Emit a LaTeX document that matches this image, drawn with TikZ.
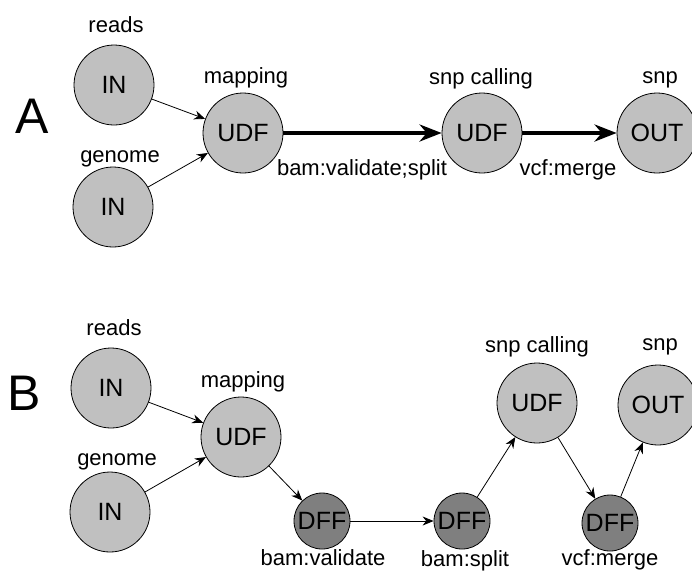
\documentclass[tikz,border=0pt]{standalone}
\usepackage{fontspec}
\setmainfont{Liberation Sans}
\usetikzlibrary{arrows.meta}

\definecolor{udfgray}{HTML}{C0C0C0}
\definecolor{dffgray}{HTML}{7F7F7F}

\begin{document}
\begin{tikzpicture}[x=1pt,y=-1pt,
  bignode/.style={draw,circle,fill=udfgray,line width=0.8pt,minimum size=80pt,inner sep=0pt,font=\fontsize{25}{30}\selectfont},
  dffnode/.style={draw,circle,fill=dffgray,line width=0.8pt,minimum size=56pt,inner sep=0pt,font=\fontsize{25}{30}\selectfont},
  lbl/.style={anchor=base,inner sep=0pt,font=\fontsize{22}{26}\selectfont},
  panel/.style={inner sep=0pt,font=\fontsize{50}{60}\selectfont},
  thinarrow/.style={-{Stealth[length=11pt,width=9pt]},line width=0.8pt},
  thickarrow/.style={-{Stealth[length=22pt,width=17pt]},line width=4pt}]
  \useasboundingbox (0,0) rectangle (692,571);

  % Panel A
  \node[panel] (labA) at (32,116) {A};
  \node[bignode] (inA1) at (114,85) {IN};
  \node[bignode] (inA2) at (113,207) {IN};
  \node[bignode] (udfA1) at (243,133) {UDF};
  \node[bignode] (udfA2) at (482,133) {UDF};
  \node[bignode] (outA) at (657,133) {OUT};
  \node[lbl] (readsA) at (116,32) {reads};
  \node[lbl] (genomeA) at (120,162) {genome};
  \node[lbl] (mapA) at (246,83) {mapping};
  \node[lbl] (callA) at (481,84) {snp calling};
  \node[lbl] (snpA) at (660,83) {snp};
  \node[lbl] (bamA) at (362,175) {bam:validate;split};
  \node[lbl] (vcfA) at (568,175) {vcf:merge};

  \draw[thinarrow] (inA1) -- (udfA1);
  \draw[thinarrow] (inA2) -- (udfA1);
  \draw[thickarrow] (udfA1) -- (udfA2);
  \draw[thickarrow] (udfA2) -- (outA);

  % Panel B
  \node[panel] (labB) at (24,393) {B};
  \node[bignode] (inB1) at (111,388) {IN};
  \node[bignode] (inB2) at (110,512) {IN};
  \node[bignode] (udfB1) at (241,437) {UDF};
  \node[dffnode] (dffB1) at (322,521) {DFF};
  \node[dffnode] (dffB2) at (462,521) {DFF};
  \node[bignode] (udfB2) at (537,403) {UDF};
  \node[dffnode] (dffB3) at (610,523) {DFF};
  \node[bignode] (outB) at (658,405) {OUT};
  \node[lbl] (readsB) at (114,335) {reads};
  \node[lbl] (genomeB) at (117,465) {genome};
  \node[lbl] (mapB) at (243,387) {mapping};
  \node[lbl] (callB) at (537,352) {snp calling};
  \node[lbl] (snpB) at (660,350) {snp};
  \node[lbl] (valB) at (323,565) {bam:validate};
  \node[lbl] (splitB) at (465,566) {bam:split};
  \node[lbl] (vcfB) at (610,565) {vcf:merge};

  \draw[thinarrow] (inB1) -- (udfB1);
  \draw[thinarrow] (inB2) -- (udfB1);
  \draw[thinarrow] (udfB1) -- (dffB1);
  \draw[thinarrow] (dffB1) -- (dffB2);
  \draw[thinarrow] (dffB2) -- (udfB2);
  \draw[thinarrow] (udfB2) -- (dffB3);
  \draw[thinarrow] (dffB3) -- (outB);
\end{tikzpicture}
\end{document}
